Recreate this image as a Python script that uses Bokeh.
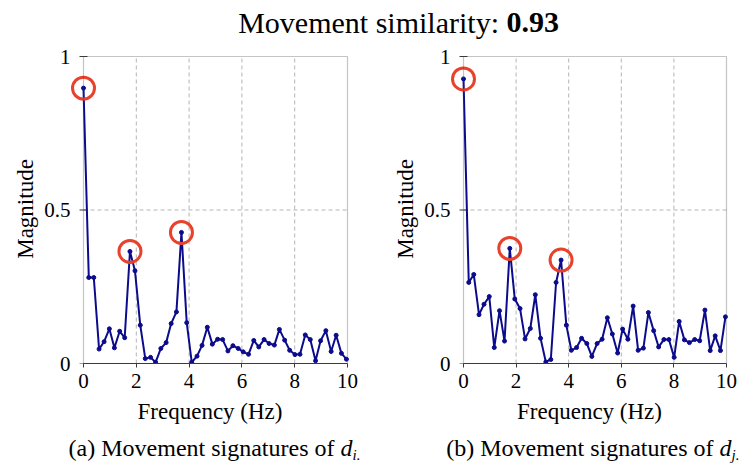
from bokeh.plotting import figure
from bokeh.layouts import column, row
from bokeh.models import Range1d, FixedTicker, BoxAnnotation
from bokeh.core.properties import value
from bokeh.embed import file_html
from bokeh.resources import INLINE

# Frequency bins (Hz) shared by both spectra
freq = [0.00, 0.20, 0.39, 0.59, 0.78, 0.98, 1.17, 1.37, 1.56, 1.76,
        1.95, 2.15, 2.34, 2.54, 2.73, 2.93, 3.13, 3.32, 3.52, 3.71,
        3.91, 4.10, 4.30, 4.49, 4.69, 4.88, 5.08, 5.27, 5.47, 5.66,
        5.86, 6.05, 6.25, 6.45, 6.64, 6.84, 7.03, 7.23, 7.42, 7.62,
        7.81, 8.01, 8.20, 8.40, 8.59, 8.79, 8.98, 9.18, 9.38, 9.57,
        9.77, 9.96]

# Magnitude spectrum of d_i
mag_i = [0.897, 0.280, 0.280, 0.047, 0.071, 0.113, 0.051, 0.105, 0.084, 0.365,
         0.302, 0.125, 0.016, 0.020, 0.004, 0.049, 0.068, 0.130, 0.168, 0.427,
         0.133, 0.004, 0.024, 0.059, 0.118, 0.063, 0.079, 0.078, 0.041, 0.058,
         0.049, 0.038, 0.030, 0.075, 0.054, 0.078, 0.065, 0.060, 0.111, 0.076,
         0.043, 0.029, 0.030, 0.093, 0.078, 0.009, 0.074, 0.107, 0.039, 0.092,
         0.033, 0.014]

# Magnitude spectrum of d_j
mag_j = [0.927, 0.264, 0.290, 0.159, 0.193, 0.218, 0.052, 0.172, 0.073, 0.375,
         0.210, 0.179, 0.080, 0.114, 0.224, 0.082, 0.005, 0.013, 0.264, 0.337,
         0.125, 0.043, 0.052, 0.082, 0.065, 0.023, 0.065, 0.079, 0.149, 0.096,
         0.034, 0.112, 0.079, 0.187, 0.043, 0.050, 0.166, 0.107, 0.054, 0.078,
         0.078, 0.020, 0.137, 0.077, 0.068, 0.078, 0.074, 0.174, 0.042, 0.090,
         0.042, 0.152]

# Indices of the highlighted spectral peaks
peaks = [0, 9, 19]

similarity = "0.93"
x_ticks = [0, 2, 4, 6, 8, 10]
y_ticks = [0, 0.5, 1]
y_tick_labels = {0: "0", 0.5: "0.5", 1: "1"}

SERIF = "Liberation Serif"
LINE = "#0b0b8c"
RING = "#e8412c"
BOX = "#3a3a3a"
GRID = "#b5b5b5"

PLOT_H = 384
TOP, BOTTOM = 10, 65
PAD_L, PAD_T, PAD_R = 13, 2, 2   # spare pixels round the axes box


def blank(width, height):
    f = figure(width=width, height=height, x_range=Range1d(0, width),
               y_range=Range1d(0, height), toolbar_location=None,
               output_backend="svg", min_border=0, title_location=None,
               x_axis_location=None, y_axis_location=None)
    f.grid.visible = False
    f.outline_line_color = None
    return f


def spectrum(mag, width, box_left, right):
    # the frame starts PAD_L px left of f = 0 so the ring at the DC peak
    # is drawn in full
    left = box_left - PAD_L
    frame_w = width - left - right
    frame_h = PLOT_H - TOP - BOTTOM
    ux = (frame_w - PAD_L - PAD_R) / (x_ticks[-1] - x_ticks[0])
    uy = (frame_h - PAD_T) / (y_ticks[-1] - y_ticks[0])
    x0, x1 = x_ticks[0], x_ticks[-1]
    y0, y1 = y_ticks[0], y_ticks[-1]

    p = figure(width=width, height=PLOT_H,
               x_range=Range1d(x0 - PAD_L / ux, x1 + PAD_R / ux),
               y_range=Range1d(y0, y1 + PAD_T / uy),
               toolbar_location=None, output_backend="svg",
               min_border_left=left, min_border_right=right,
               min_border_top=TOP, min_border_bottom=BOTTOM,
               title_location=None)
    p.outline_line_color = None
    p.grid.visible = False

    for ax in (p.xaxis, p.yaxis):
        ax.major_label_text_font = SERIF
        ax.major_label_text_font_size = "21px"
        ax.major_label_text_color = "black"
        ax.axis_label_text_font = SERIF
        ax.axis_label_text_font_size = "23px"
        ax.axis_label_text_font_style = "normal"
        ax.axis_label_text_color = "black"
        ax.minor_tick_line_color = None
    p.xaxis.ticker = FixedTicker(ticks=x_ticks)
    p.yaxis.ticker = FixedTicker(ticks=y_ticks)
    p.yaxis.major_label_overrides = y_tick_labels
    p.xaxis.bounds = (x0, x1)
    p.xaxis.axis_line_color = BOX
    p.xaxis.major_tick_line_color = BOX
    p.xaxis.major_tick_in = 0
    p.xaxis.major_tick_out = 4
    p.xaxis.major_label_standoff = 6
    p.yaxis.axis_line_color = None
    p.yaxis.major_tick_line_color = None
    p.yaxis.major_tick_in = 0
    p.yaxis.major_tick_out = 0
    p.yaxis.major_label_standoff = 0
    p.xaxis.axis_label = "Frequency (Hz)"
    p.yaxis.axis_label = "Magnitude"
    p.xaxis.axis_label_standoff = 8
    p.yaxis.axis_label_standoff = 3

    # dashed grid inside the axes box
    inner = x_ticks[1:-1]
    p.segment(x0=inner, y0=[y0] * len(inner), x1=inner, y1=[y1] * len(inner),
              line_color=GRID, line_dash="4 3", line_width=1)
    p.segment(x0=[x0], y0=[y_ticks[1]], x1=[x1], y1=[y_ticks[1]],
              line_color=GRID, line_dash="4 3", line_width=1)
    # axes box
    p.add_layout(BoxAnnotation(left=x0, right=x1, bottom=y0, top=y1,
                               fill_alpha=0, line_color=BOX, line_width=1.2))
    # short ticks on the value axis
    p.scatter([x0] * len(y_ticks), y_ticks, marker="dash", size=8,
              line_color=BOX, line_width=1)

    p.line(freq, mag, line_color=LINE, line_width=2)
    p.scatter(freq, mag, size=4, color=LINE)
    p.scatter([freq[k] for k in peaks], [mag[k] for k in peaks],
              marker="circle", size=22, fill_color=None,
              line_color=RING, line_width=3)
    return p


p1 = spectrum(mag_i, 372, 83, 23)
p2 = spectrum(mag_j, 372, 91, 16)


def write(fig, x, y, text, size, align, style="normal"):
    fig.text(x=[x], y=[y], text=[text], text_align=align,
             text_baseline="middle", text_font=value(SERIF),
             text_font_size=size, text_font_style=style, text_color="black")


# Title with the similarity score in bold
head = blank(744, 44)
write(head, 506, 22, "Movement similarity: ", "30px", "right")
write(head, 506, 22, similarity, "30px", "left", "bold")

# Sub-figure captions
foot = blank(744, 42)
for split, letter, sub in ((340, "(a)", "i."), (719, "(b)", "j.")):
    write(foot, split, 23, f"{letter} Movement signatures of ", "24px", "right")
    write(foot, split, 23, "d", "24px", "left", "italic")
    write(foot, split + 12, 16, sub, "15px", "left", "italic")

layout = column(head, row(p1, p2), foot)
open("out.html", "w").write(file_html(layout, INLINE))
